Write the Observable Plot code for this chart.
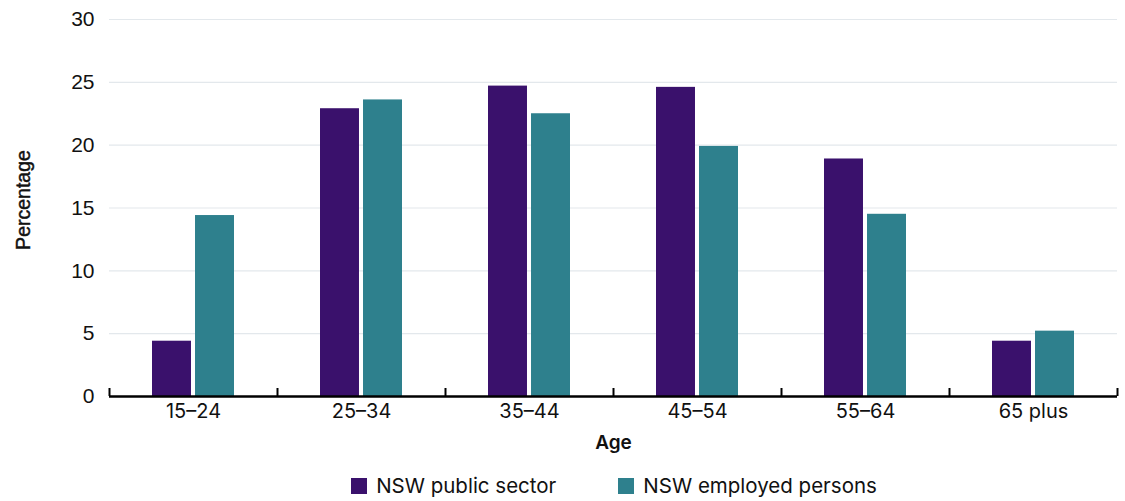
<!DOCTYPE html>
<html>
<head>
<meta charset="utf-8">
<script src="https://cdn.jsdelivr.net/npm/d3@7"></script>
<script src="https://cdn.jsdelivr.net/npm/@observablehq/plot@0.6"></script>
<style>
  body { margin: 0; background: #fff; }
  #chart svg { display: block; }
  .legend { display: flex; justify-content: center; gap: 62px; font-family: Inter, "Liberation Sans", sans-serif; font-size: 20.5px; color: #111; margin-top: 11px; padding-left: 103px; }
  .legend .item { display: flex; align-items: center; }
  .legend .sw { width: 16px; height: 16px; margin-right: 9px; display: inline-block; }
</style>
</head>
<body>
<div id="chart"></div>
<script>
const ages = ["15–24", "25–34", "35–44", "45–54", "55–64", "65 plus"];
const series = ["NSW public sector", "NSW employed persons"];
const publicSector = [4.4, 22.9, 24.7, 24.6, 18.9, 4.4];
const employedPersons = [14.4, 23.6, 22.5, 19.9, 14.5, 5.2];
const colors = ["#3a116c", "#2e808d"];
const yTicks = [0, 5, 10, 15, 20, 25, 30];

const data = [
  ...ages.map((a, i) => ({age: a, series: series[0], value: publicSector[i]})),
  ...ages.map((a, i) => ({age: a, series: series[1], value: employedPersons[i]}))
];

const W = 1125, H = 462, ml = 109, mr = 8, mt = 19, mb = 66;
const bw = (W - ml - mr) / ages.length;
const barW = bw * 0.232, gap = bw * 0.024;
const outer = (bw - 2 * barW - gap) / 2;

const chart = Plot.plot({
  width: W,
  height: H,
  marginLeft: ml,
  marginRight: mr,
  marginTop: mt,
  marginBottom: mb,
  style: {fontFamily: "'Liberation Sans', Arial, sans-serif", fontSize: "20px", color: "#111", background: "#fff"},
  x: {domain: ages, padding: 0, label: null},
  y: {domain: [0, 30], label: null},
  color: {domain: series, range: colors},
  marks: [
    Plot.gridY(yTicks, {stroke: "#e3e8ec", strokeOpacity: 1, strokeWidth: 1.2}),
    Plot.axisY(yTicks, {tickSize: 0, tickPadding: 15, fontSize: 21, label: null}),
    Plot.axisX({tickSize: 0, tickPadding: 7, fontSize: 20, fontFamily: "Inter, sans-serif", label: null}),
    Plot.barY(data.filter(d => d.series === series[0]), {x: "age", y: "value", fill: "series", insetLeft: outer, insetRight: outer + barW + gap}),
    Plot.barY(data.filter(d => d.series === series[1]), {x: "age", y: "value", fill: "series", insetLeft: outer + barW + gap, insetRight: outer}),
    Plot.ruleY([0], {stroke: "#000", strokeWidth: 2.5}),
    Plot.ruleX(ages, {x: d => d, dx: -bw / 2, y1: 0, y2: 0, insetTop: -8, stroke: "#000", strokeWidth: 2}),
    Plot.ruleX([ages[ages.length - 1]], {x: d => d, dx: bw / 2, y1: 0, y2: 0, insetTop: -8, stroke: "#000", strokeWidth: 2}),
    Plot.text(["Percentage"], {frameAnchor: "left", textAnchor: "middle", rotate: -90, dx: -86, dy: -8, fontSize: 19.5, fontWeight: 400, fill: "#111", stroke: "#111", strokeWidth: 0.45, fontFamily: "'Liberation Sans', Arial, sans-serif"}),
    Plot.text(["Age"], {frameAnchor: "bottom", dx: 0, dy: 52, fontSize: 19, fontWeight: 600, fill: "#111", fontFamily: "Inter, sans-serif"})
  ]
});
document.getElementById("chart").appendChild(chart);

const legend = document.createElement("div");
legend.className = "legend";
series.forEach((s, i) => {
  const item = document.createElement("div");
  item.className = "item";
  const sw = document.createElement("span");
  sw.className = "sw";
  sw.style.background = colors[i];
  const t = document.createElement("span");
  t.textContent = s;
  item.appendChild(sw);
  item.appendChild(t);
  legend.appendChild(item);
});
document.body.appendChild(legend);
</script>
</body>
</html>
